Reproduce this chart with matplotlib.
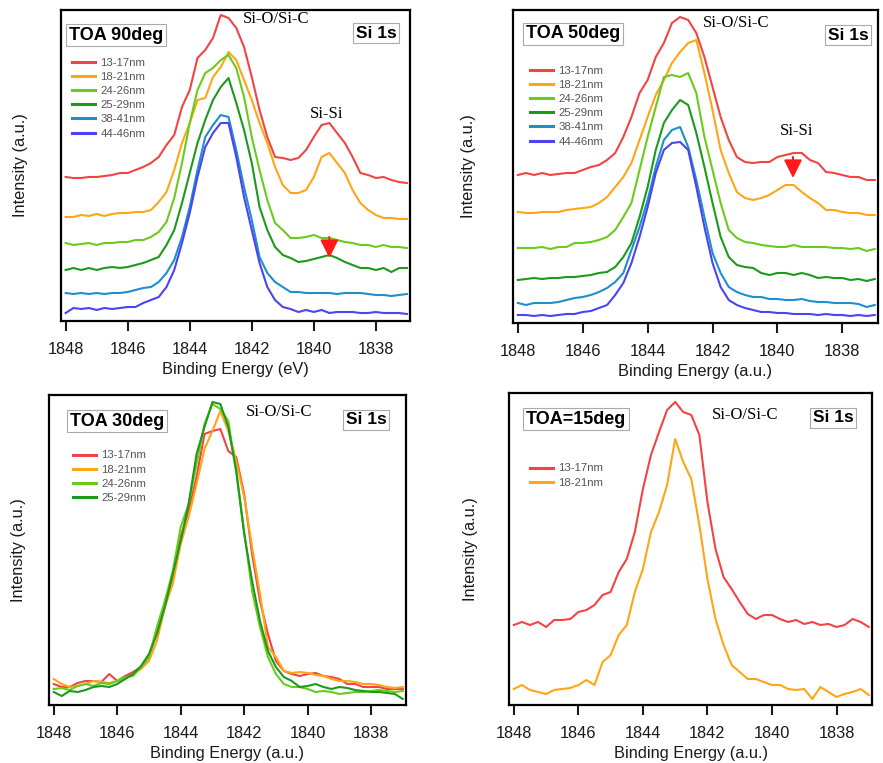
import numpy as np
import matplotlib
matplotlib.use('Agg')
import matplotlib.pyplot as plt

plt.rcParams['font.family'] = ['Liberation Sans', 'DejaVu Sans']

W, H = 883, 763

# energy grid the curves were read on (eV), 0.25 eV steps
energy = np.linspace(1848, 1837, 45)

labels = ['13-17nm', '18-21nm', '24-26nm', '25-29nm', '38-41nm', '44-46nm']
colors = ['#f24444', '#ffa516', '#6acb1e', '#1c9a1c', '#1f8fcc', '#4c44f2']

# TOA 90deg (intensity, arb. units, offset stacked)
toa90_1317 = [144, 143, 143, 144, 144, 145, 146, 148, 148, 151, 154, 158, 164, 176, 186, 214, 231, 263, 271, 283, 306, 303,
              293, 274, 244, 211, 184, 164, 163, 161, 163, 171, 184, 196, 198, 188, 178, 164, 148, 146, 143, 144, 141, 139, 138]
toa90_1821 = [104, 104, 106, 105, 107, 105, 107, 108, 108, 109, 109, 111, 119, 129, 151, 178, 198, 221, 223, 244, 254, 269,
              261, 241, 221, 198, 178, 154, 136, 128, 128, 131, 144, 164, 168, 158, 148, 131, 118, 111, 106, 103, 103, 102, 102]
toa90_2426 = [78, 76, 77, 78, 76, 78, 78, 79, 79, 81, 81, 84, 89, 99, 123, 158, 198, 231, 248, 253, 261, 266,
              253, 224, 184, 151, 121, 98, 91, 83, 83, 84, 86, 83, 83, 81, 79, 78, 76, 76, 74, 76, 74, 74, 73]
toa90_2529 = [51, 53, 51, 53, 51, 53, 54, 53, 54, 56, 58, 61, 64, 76, 91, 118, 148, 178, 201, 221, 234, 243,
              218, 191, 158, 114, 91, 74, 66, 63, 59, 60, 62, 64, 66, 63, 59, 56, 53, 53, 51, 53, 49, 53, 53]
toa90_3841 = [28, 27, 28, 27, 28, 27, 28, 28, 29, 31, 33, 34, 39, 48, 61, 84, 114, 151, 184, 196, 206, 204,
              171, 134, 101, 64, 48, 39, 34, 29, 29, 28, 28, 28, 28, 27, 28, 28, 28, 27, 26, 26, 25, 26, 27]
toa90_4446 = [8, 13, 12, 13, 11, 13, 12, 13, 14, 14, 18, 21, 24, 34, 51, 78, 108, 144, 174, 188, 198, 198,
              164, 124, 91, 58, 34, 21, 14, 12, 9, 11, 9, 11, 8, 9, 9, 9, 8, 8, 9, 8, 8, 8, 7]

# TOA 50deg
toa50_1317 = [148, 150, 148, 150, 148, 149, 150, 150, 153, 156, 158, 163, 170, 186, 206, 230, 243, 266, 280, 300, 306, 303,
              290, 266, 236, 206, 183, 166, 161, 160, 161, 161, 166, 168, 170, 170, 163, 160, 151, 150, 148, 146, 146, 143, 143]
toa50_1821 = [111, 110, 110, 111, 111, 111, 113, 114, 115, 116, 120, 126, 136, 146, 160, 183, 206, 228, 243, 260, 271, 280,
              283, 250, 213, 173, 150, 131, 125, 123, 125, 128, 133, 138, 138, 131, 125, 120, 113, 113, 111, 110, 110, 108, 108]
toa50_2426 = [75, 75, 75, 76, 74, 76, 76, 80, 80, 81, 83, 86, 93, 106, 120, 153, 186, 216, 246, 248, 246, 250,
              230, 186, 153, 120, 93, 85, 81, 80, 78, 77, 76, 76, 78, 76, 76, 76, 76, 75, 75, 74, 75, 72, 74]
toa50_2529 = [43, 44, 45, 44, 45, 45, 46, 46, 47, 48, 50, 51, 56, 66, 80, 106, 136, 173, 200, 213, 223, 218,
              190, 156, 120, 86, 66, 58, 56, 55, 50, 48, 50, 50, 48, 50, 48, 45, 46, 45, 45, 43, 44, 42, 44]
toa50_3841 = [20, 18, 20, 20, 20, 21, 23, 25, 26, 28, 31, 35, 41, 50, 73, 96, 123, 156, 183, 193, 196, 176,
              143, 106, 70, 50, 36, 31, 28, 26, 26, 24, 24, 23, 23, 24, 22, 21, 21, 20, 20, 20, 19, 16, 18]
toa50_4446 = [8, 8, 7, 8, 7, 8, 9, 9, 11, 12, 15, 18, 28, 40, 60, 86, 116, 150, 173, 180, 181, 173,
              136, 96, 60, 36, 23, 18, 15, 13, 11, 11, 10, 10, 9, 9, 9, 8, 9, 8, 8, 7, 8, 7, 8]

# TOA 30deg
toa30_1317 = [21, 18, 18, 22, 24, 24, 23, 31, 24, 29, 33, 38, 48, 74, 98, 128, 168, 194, 228, 271, 274, 276,
              254, 248, 211, 151, 104, 71, 44, 34, 31, 29, 31, 32, 29, 28, 26, 21, 21, 18, 18, 18, 16, 16, 16]
toa30_1821 = [26, 21, 18, 19, 21, 24, 23, 22, 24, 26, 31, 36, 44, 64, 98, 121, 161, 188, 221, 256, 274, 294,
              274, 244, 208, 158, 111, 58, 48, 34, 32, 33, 32, 30, 29, 26, 24, 24, 23, 21, 21, 20, 18, 17, 18]
toa30_2426 = [16, 17, 15, 19, 21, 19, 22, 21, 24, 28, 29, 38, 48, 78, 104, 134, 178, 201, 241, 281, 301, 296,
              284, 234, 174, 114, 78, 48, 31, 21, 18, 18, 16, 13, 14, 13, 11, 12, 13, 13, 14, 15, 14, 13, 14]
toa30_2529 = [13, 9, 14, 13, 15, 18, 19, 18, 21, 26, 31, 39, 51, 71, 98, 131, 164, 201, 251, 278, 303, 301,
              278, 234, 171, 124, 84, 54, 38, 28, 24, 18, 19, 21, 18, 16, 18, 17, 15, 14, 13, 13, 12, 11, 6]

# TOA 15deg
toa15_1317 = [80, 83, 80, 83, 78, 85, 85, 86, 93, 95, 100, 110, 113, 133, 146, 173, 216, 250, 273, 295, 303, 293,
              290, 270, 203, 156, 128, 116, 103, 91, 86, 90, 90, 86, 83, 85, 81, 83, 80, 81, 78, 80, 86, 83, 78]
toa15_1821 = [16, 20, 15, 13, 11, 15, 16, 17, 20, 25, 20, 43, 50, 70, 80, 113, 136, 173, 193, 220, 266, 243,
              226, 180, 126, 86, 60, 40, 33, 26, 26, 23, 20, 20, 16, 15, 16, 6, 18, 13, 8, 11, 13, 16, 10]

panels = [
    dict(box=(61, 10, 410, 321), series=[toa90_1317, toa90_1821, toa90_2426, toa90_2529, toa90_3841, toa90_4446],
         title='TOA 90deg', title_xy=(116, 35), si1s_xy=(376, 33), sio_xy=(276, 19), xlabel='Binding Energy (eV)',
         ylab_x=28, leg_xy=(72, 57.5), sisi=(1839.58, 207), arrow=(1839.5, 84, 63)),
    dict(box=(513, 10, 878, 323), series=[toa50_1317, toa50_1821, toa50_2426, toa50_2529, toa50_3841, toa50_4446],
         title='TOA 50deg', title_xy=(573, 34), si1s_xy=(848, 35), sio_xy=(736, 23), xlabel='Binding Energy (a.u.)',
         ylab_x=476, leg_xy=(530, 65.5), sisi=(1839.4, 192), arrow=(1839.52, 166, 145)),
    dict(box=(49, 395, 406, 705), series=[toa30_1317, toa30_1821, toa30_2426, toa30_2529],
         title='TOA 30deg', title_xy=(117, 421), si1s_xy=(366, 420), sio_xy=(279, 412), xlabel='Binding Energy (a.u.)',
         ylab_x=26, leg_xy=(73, 450.5), sisi=None, arrow=None),
    dict(box=(509, 393, 872, 705), series=[toa15_1317, toa15_1821],
         title='TOA=15deg', title_xy=(576, 419), si1s_xy=(833, 418), sio_xy=(745, 415), xlabel='Binding Energy (a.u.)',
         ylab_x=478, leg_xy=(530, 463.5), sisi=None, arrow=None),
]


def fx(x, y):
    return x / W, 1 - y / H


fig = plt.figure(figsize=(W / 100, H / 100), dpi=100)

for p in panels:
    left, top, right, bottom = p['box']
    ax = fig.add_axes([left / W, 1 - bottom / H, (right - left) / W, (bottom - top) / H])
    for s, c, lab in zip(p['series'], colors, labels):
        ax.plot(energy, s, color=c, lw=1.5, label=lab)
    ax.set_xlim(1848.15, 1836.9)
    ax.set_ylim(0, bottom - top)
    ax.set_xticks([1848, 1846, 1844, 1842, 1840, 1838])
    ax.set_yticks([])
    ax.tick_params(axis='x', direction='out', length=7, width=1.5, labelsize=11.8, pad=8, colors='#1a1a1a')
    for sp in ax.spines.values():
        sp.set_linewidth(1.6)
    ax.set_xlabel(p['xlabel'], fontsize=11.8, labelpad=3.5, color='#1a1a1a')
    ax.set_ylabel('Intensity (a.u.)', fontsize=11.8, color='#1a1a1a')
    ax.yaxis.set_label_coords((p['ylab_x'] - left) / (right - left), 0.5)

    leg = ax.legend(loc='upper left', bbox_to_anchor=fx(*p['leg_xy']), bbox_transform=fig.transFigure,
                    frameon=False, fontsize=8.2, handlelength=2.05, handletextpad=0.45, labelspacing=0.37,
                    borderpad=0, borderaxespad=0, labelcolor='#555555')
    for ln in leg.get_lines():
        ln.set_linewidth(2.2)

    boxstyle = dict(boxstyle='square,pad=0.15', fc='white', ec='#aaaaaa', lw=0.8)
    fig.text(*fx(*p['title_xy']), p['title'], fontsize=13, fontweight='bold', ha='center', va='center', bbox=boxstyle)
    fig.text(*fx(*p['si1s_xy']), 'Si 1s', fontsize=12.5, fontweight='bold', ha='center', va='center', bbox=boxstyle)
    fig.text(*fx(*p['sio_xy']), 'Si-O/Si-C', fontsize=12, family='Liberation Serif', ha='center', va='center')

    if p['sisi'] is not None:
        ax.text(p['sisi'][0], p['sisi'][1], 'Si-Si', fontsize=12, family='Liberation Serif', ha='center', va='center')
        ax_x, y0, y1 = p['arrow']
        ax.annotate('', xy=(ax_x, y1), xytext=(ax_x, y0),
                    arrowprops=dict(arrowstyle='-|>,head_length=1.0,head_width=0.5', color='#ff1a1a', lw=1.5,
                                    mutation_scale=11, shrinkA=0, shrinkB=0))

fig.savefig('out.png', dpi=100)
